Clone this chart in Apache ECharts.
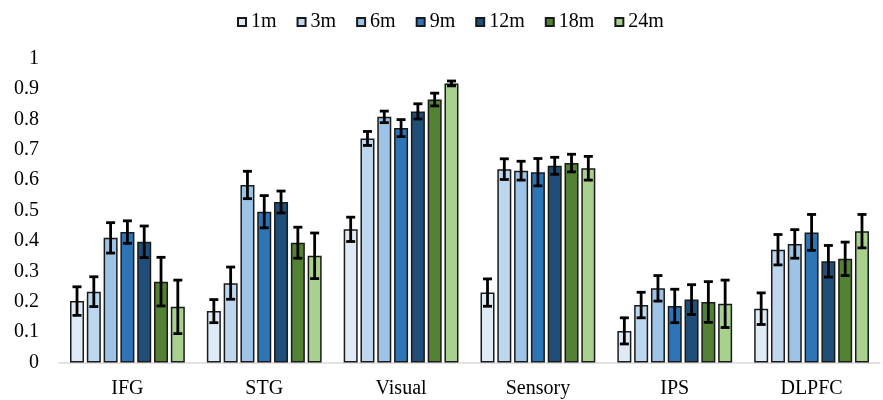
<!DOCTYPE html>
<html>
<head>
<meta charset="utf-8">
<script src="https://cdn.jsdelivr.net/npm/echarts@6/dist/echarts.min.js"></script>
<style>
html,body{margin:0;padding:0;background:#fff;}
#chart{width:883px;height:400px;}
</style>
</head>
<body>
<div id="chart"></div>
<script>
const categories = ['IFG', 'STG', 'Visual', 'Sensory', 'IPS', 'DLPFC'];
const seriesNames = ['1m', '3m', '6m', '9m', '12m', '18m', '24m'];
const yTicks = [0, 0.1, 0.2, 0.3, 0.4, 0.5, 0.6, 0.7, 0.8, 0.9, 1];

const m1  = [0.202, 0.169, 0.438, 0.230, 0.104, 0.177];
const m3  = [0.233, 0.261, 0.737, 0.636, 0.189, 0.371];
const m6  = [0.410, 0.584, 0.808, 0.631, 0.244, 0.390];
const m9  = [0.429, 0.496, 0.771, 0.626, 0.186, 0.428];
const m12 = [0.397, 0.528, 0.826, 0.647, 0.207, 0.333];
const m18 = [0.266, 0.394, 0.865, 0.656, 0.199, 0.341];
const m24 = [0.183, 0.351, 0.918, 0.639, 0.193, 0.432];

const e1  = [0.047, 0.038, 0.040, 0.045, 0.043, 0.052];
const e3  = [0.049, 0.053, 0.023, 0.034, 0.042, 0.050];
const e6  = [0.050, 0.045, 0.019, 0.031, 0.042, 0.047];
const e9  = [0.037, 0.053, 0.028, 0.045, 0.055, 0.059];
const e12 = [0.052, 0.036, 0.025, 0.028, 0.049, 0.052];
const e18 = [0.080, 0.051, 0.021, 0.029, 0.067, 0.055];
const e24 = [0.088, 0.075, 0.008, 0.039, 0.078, 0.055];

const values = [m1, m3, m6, m9, m12, m18, m24];
const errors = [e1, e3, e6, e9, e12, e18, e24];
const colors = ['#DEEBF7', '#BDD7EE', '#9DC3E6', '#2E75B6', '#1F4E79', '#548235', '#A9D18E'];

const FONT = '"Liberation Serif", "Times New Roman", serif';
const BAR_W = 14;
const BAR_GAP = 0.2;
const PITCH = BAR_W * (1 + BAR_GAP);
const n = seriesNames.length;

const series = [];
seriesNames.forEach((name, i) => {
  series.push({
    name: name,
    type: 'bar',
    barWidth: BAR_W,
    barGap: (BAR_GAP * 100) + '%',
    data: values[i],
    itemStyle: { color: colors[i], borderColor: '#1a1a1a', borderWidth: 1.5 },
    z: 2
  });
});
seriesNames.forEach((name, i) => {
  const offset = (i - (n - 1) / 2) * PITCH;
  series.push({
    name: name + ' err',
    type: 'custom',
    z: 5,
    data: categories.map((c, j) => [j, values[i][j], errors[i][j]]),
    encode: { x: 0, y: 1 },
    renderItem: function (params, api) {
      const x = api.value(0), v = api.value(1), e = api.value(2);
      const hi = api.coord([x, v + e]);
      const lo = api.coord([x, v - e]);
      const cx = hi[0] + offset;
      const cap = 4.5;
      const st = { stroke: '#000', lineWidth: 2.8 };
      return {
        type: 'group',
        children: [
          { type: 'line', shape: { x1: cx, y1: hi[1], x2: cx, y2: lo[1] }, style: st },
          { type: 'line', shape: { x1: cx - cap, y1: hi[1], x2: cx + cap, y2: hi[1] }, style: st },
          { type: 'line', shape: { x1: cx - cap, y1: lo[1], x2: cx + cap, y2: lo[1] }, style: st }
        ]
      };
    }
  });
});

const chart = echarts.init(document.getElementById('chart'), null, { renderer: 'canvas' });
chart.setOption({
  animation: false,
  backgroundColor: '#fff',
  textStyle: { fontFamily: FONT },
  legend: {
    data: seriesNames,
    left: 232,
    top: 7,
    itemWidth: 8,
    itemHeight: 8,
    itemGap: 20,
    icon: 'rect',
    textStyle: { fontFamily: FONT, fontSize: 20, color: '#000' }
  },
  grid: { left: 59, right: 3, top: 58.5, bottom: 37.5, containLabel: false },
  xAxis: {
    type: 'category',
    data: categories,
    axisLine: { show: true, lineStyle: { color: '#d9d9d9', width: 1.5 } },
    axisTick: { show: false },
    axisLabel: { fontFamily: FONT, fontSize: 20, color: '#000', margin: 16 },
    splitLine: { show: false }
  },
  yAxis: {
    type: 'value',
    min: yTicks[0],
    max: yTicks[yTicks.length - 1],
    interval: 0.1,
    axisLine: { show: false },
    axisTick: { show: false },
    splitLine: { show: false },
    axisLabel: { fontFamily: FONT, fontSize: 20, color: '#000', margin: 20 }
  },
  series: series
});
</script>
</body>
</html>
